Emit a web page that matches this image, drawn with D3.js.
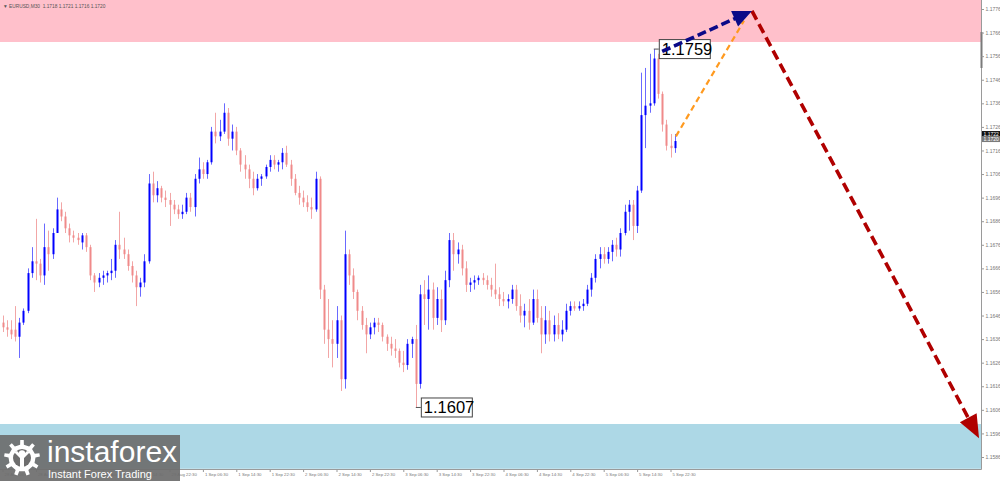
<!DOCTYPE html>
<html><head><meta charset="utf-8">
<script src="https://cdn.jsdelivr.net/npm/d3@7"></script>
<style>html,body{margin:0;padding:0;background:#fff;overflow:hidden}</style>
</head><body><svg id="c" width="1000" height="481"></svg>
<script>
// ---- DATA (EURUSD, hourly-merged candles) ----
const opens=[1.1643,1.1641,1.1640,1.1640,1.1637,1.1643,1.1648,1.1664,1.1669,1.1668,
1.1663,1.1675,1.1672,1.1681,1.1691,1.1688,1.1683,1.1680,1.1679,1.1677,
1.1680,1.1675,1.1663,1.1660,1.1662,1.1663,1.1664,1.1665,1.1676,1.1674,
1.1672,1.1667,1.1663,1.1658,1.1660,1.1669,1.1702,1.1697,1.1700,1.1696,
1.1695,1.1693,1.1691,1.1689,1.1690,1.1696,1.1692,1.1704,1.1708,1.1706,
1.1711,1.1724,1.1722,1.1724,1.1732,1.1721,1.1724,1.1716,1.1710,1.1708,
1.1704,1.1700,1.1704,1.1705,1.1709,1.1712,1.1710,1.1711,1.1715,1.1710,
1.1704,1.1698,1.1696,1.1694,1.1692,1.1691,1.1704,1.1657,1.1640,1.1636,
1.1634,1.1644,1.1619,1.1672,1.1663,1.1656,1.1648,1.1642,1.1638,1.1641,
1.1643,1.1642,1.1637,1.1634,1.1632,1.1631,1.1626,1.1625,1.1634,1.1636,
1.1617,1.1655,1.1653,1.1657,1.1645,1.1653,1.1644,1.1661,1.1678,1.1672,
1.1674,1.1666,1.1659,1.1660,1.1661,1.1662,1.1661,1.1659,1.1657,1.1655,
1.1653,1.1652,1.1653,1.1657,1.1650,1.1646,1.1648,1.1643,1.1653,1.1645,
1.1638,1.1644,1.1638,1.1642,1.1638,1.1640,1.1648,1.1650,1.1649,1.1650,
1.1651,1.1657,1.1662,1.1670,1.1672,1.1670,1.1673,1.1676,1.1674,1.1681,
1.1690,1.1693,1.1684,1.1699,1.1731,1.1735,1.1736,1.1755,1.1740,1.1727,
1.1718,1.1717];
const highs=[1.1646,1.1644,1.1644,1.1650,1.1645,1.1649,1.1666,1.1675,1.1687,1.1670,
1.1685,1.1682,1.1683,1.1696,1.1694,1.1690,1.1685,1.1682,1.1681,1.1681,
1.1681,1.1676,1.1664,1.1664,1.1665,1.1665,1.1670,1.1678,1.1690,1.1679,
1.1674,1.1669,1.1665,1.1662,1.1672,1.1706,1.1707,1.1703,1.1701,1.1699,
1.1698,1.1695,1.1693,1.1693,1.1698,1.1698,1.1706,1.1713,1.1711,1.1712,
1.1726,1.1732,1.1729,1.1736,1.1734,1.1727,1.1726,1.1717,1.1714,1.1710,
1.1707,1.1706,1.1706,1.1710,1.1714,1.1714,1.1712,1.1717,1.1718,1.1712,
1.1706,1.1701,1.1699,1.1697,1.1696,1.1707,1.1705,1.1659,1.1653,1.1644,
1.1650,1.1646,1.1682,1.1674,1.1666,1.1657,1.1650,1.1645,1.1643,1.1645,
1.1645,1.1643,1.1638,1.1637,1.1636,1.1632,1.1631,1.1636,1.1637,1.1642,
1.1659,1.1661,1.1663,1.1660,1.1658,1.1657,1.1665,1.1681,1.1681,1.1677,
1.1676,1.1669,1.1662,1.1663,1.1663,1.1664,1.1663,1.1662,1.1668,1.1658,
1.1656,1.1655,1.1659,1.1659,1.1655,1.1651,1.1653,1.1657,1.1657,1.1650,
1.1650,1.1648,1.1646,1.1647,1.1644,1.1651,1.1652,1.1652,1.1652,1.1653,
1.1659,1.1664,1.1672,1.1675,1.1675,1.1675,1.1678,1.1679,1.1683,1.1693,
1.1695,1.1695,1.1701,1.1749,1.1751,1.1757,1.1759,1.1757,1.1741,1.1729,
1.1723,1.1723];
const lows=[1.1639,1.1637,1.1636,1.1635,1.1628,1.1642,1.1647,1.1662,1.1661,1.1660,
1.1659,1.1665,1.1670,1.1681,1.1686,1.1681,1.1677,1.1677,1.1676,1.1674,
1.1673,1.1661,1.1656,1.1658,1.1659,1.1660,1.1661,1.1662,1.1670,1.1670,
1.1665,1.1660,1.1650,1.1654,1.1658,1.1668,1.1694,1.1694,1.1694,1.1692,
1.1684,1.1689,1.1687,1.1687,1.1689,1.1690,1.1688,1.1702,1.1704,1.1704,
1.1710,1.1719,1.1720,1.1723,1.1718,1.1716,1.1714,1.1707,1.1704,1.1700,
1.1697,1.1699,1.1701,1.1704,1.1707,1.1708,1.1707,1.1708,1.1709,1.1701,
1.1697,1.1693,1.1692,1.1690,1.1687,1.1690,1.1653,1.1634,1.1628,1.1624,
1.1628,1.1614,1.1615,1.1659,1.1653,1.1644,1.1640,1.1630,1.1636,1.1638,
1.1639,1.1635,1.1631,1.1629,1.1628,1.1624,1.1622,1.1623,1.1628,1.1607,
1.1615,1.1642,1.1640,1.1640,1.1642,1.1639,1.1642,1.1658,1.1665,1.1668,
1.1663,1.1656,1.1656,1.1657,1.1659,1.1659,1.1657,1.1654,1.1653,1.1650,
1.1650,1.1649,1.1651,1.1648,1.1643,1.1641,1.1640,1.1642,1.1643,1.1630,
1.1634,1.1635,1.1635,1.1636,1.1635,1.1639,1.1646,1.1648,1.1648,1.1648,
1.1650,1.1654,1.1660,1.1666,1.1668,1.1668,1.1669,1.1671,1.1671,1.1680,
1.1682,1.1678,1.1681,1.1698,1.1717,1.1732,1.1735,1.1738,1.1724,1.1716,
1.1713,1.1715];
const closes=[1.1641,1.1640,1.1638,1.1637,1.1643,1.1648,1.1664,1.1669,1.1668,1.1663,
1.1675,1.1672,1.1681,1.1691,1.1688,1.1683,1.1680,1.1679,1.1678,1.1680,
1.1675,1.1663,1.1660,1.1662,1.1663,1.1664,1.1665,1.1676,1.1674,1.1672,
1.1667,1.1663,1.1658,1.1660,1.1669,1.1702,1.1697,1.1700,1.1696,1.1695,
1.1693,1.1691,1.1689,1.1690,1.1696,1.1692,1.1704,1.1708,1.1706,1.1711,
1.1724,1.1722,1.1724,1.1732,1.1721,1.1724,1.1716,1.1710,1.1708,1.1704,
1.1700,1.1704,1.1705,1.1709,1.1712,1.1710,1.1711,1.1715,1.1710,1.1704,
1.1698,1.1696,1.1694,1.1692,1.1691,1.1704,1.1657,1.1640,1.1636,1.1634,
1.1644,1.1619,1.1672,1.1663,1.1656,1.1648,1.1642,1.1638,1.1641,1.1643,
1.1642,1.1637,1.1634,1.1632,1.1631,1.1626,1.1625,1.1634,1.1636,1.1617,
1.1655,1.1653,1.1657,1.1645,1.1653,1.1644,1.1661,1.1678,1.1672,1.1674,
1.1666,1.1659,1.1660,1.1661,1.1662,1.1661,1.1659,1.1657,1.1655,1.1653,
1.1652,1.1653,1.1657,1.1650,1.1646,1.1648,1.1643,1.1653,1.1645,1.1638,
1.1644,1.1638,1.1642,1.1638,1.1640,1.1648,1.1650,1.1649,1.1650,1.1651,
1.1657,1.1662,1.1670,1.1672,1.1670,1.1673,1.1676,1.1674,1.1681,1.1690,
1.1693,1.1684,1.1699,1.1731,1.1735,1.1736,1.1755,1.1740,1.1727,1.1718,
1.1717,1.1720];

const tickLabels=["28 Aug 06:30","28 Aug 14:30","28 Aug 22:30","29 Aug 06:30","29 Aug 14:30","29 Aug 22:30",
"1 Sep 06:30","1 Sep 14:30","1 Sep 22:30","2 Sep 06:30","2 Sep 14:30","2 Sep 22:30",
"3 Sep 06:30","3 Sep 14:30","3 Sep 22:30","4 Sep 06:30","4 Sep 14:30","4 Sep 22:30",
"5 Sep 06:30","5 Sep 14:30","5 Sep 22:30"];
const tickIndex=[0,8,16,24,32,40,48,56,64,72,80,88,96,104,112,120,128,136,144,152,160];
const priceTicks=[1.1776,1.1766,1.1756,1.1746,1.1736,1.1726,1.1716,1.1706,1.1696,1.1686,
1.1676,1.1666,1.1656,1.1646,1.1636,1.1626,1.1616,1.1606,1.1596,1.1586];

const sellZone=[1.1762,1.1790];
const buyZone=[1.1581,1.1600];
// forecast path: [candle index, price]
const bluePath=[[158.0,1.1758],[179.5,1.17752]];
const orangePath=[[161.3,1.1722],[177.6,1.1771]];
const redPath=[[179.5,1.17752],[233.9,1.1594]];
const extremes=[{i:156,p:1.1759,label:"1.1759"},{i:99,p:1.1607,label:"1.1607"}];
const header="\u25BC EURUSD,M30  1.1718 1.1721 1.1716 1.1720";
const priceBoxes=[{label:"1.1722",fill:"#111"},{label:"1.1720",fill:"#7a7a7a"}];

// ---- CHART ----
const svg=d3.select("#c");
const W=1000,H=481,plotR=981,plotB=469.5;
const x=d3.scaleLinear().domain([0,161]).range([2.5,2.5+4.175*161]);
const y=d3.scaleLinear().domain([1.1586,1.1776]).range([457,9]);
const font="'Liberation Sans', Arial, sans-serif";

const plot=svg.append("g");
const clip=svg.append("clipPath").attr("id","pc").append("rect").attr("x",0).attr("y",0).attr("width",plotR).attr("height",plotB);
plot.attr("clip-path","url(#pc)");

plot.append("rect").attr("x",0).attr("width",plotR)
  .attr("y",Math.max(0,y(sellZone[1]))).attr("height",y(sellZone[0])-Math.max(0,y(sellZone[1])))
  .attr("fill","#ffc0cb");
plot.append("rect").attr("x",0).attr("width",plotR)
  .attr("y",y(buyZone[1])).attr("height",y(buyZone[0])-y(buyZone[1]))
  .attr("fill","#add8e6");

// candles
const idx=d3.range(closes.length);
const up="#0000ff", dn="#f08a8a";
const cg=plot.append("g");
cg.selectAll("line.w").data(idx).join("line")
  .attr("x1",i=>Math.round(x(i))+0.5).attr("x2",i=>Math.round(x(i))+0.5)
  .attr("y1",i=>y(highs[i])).attr("y2",i=>y(lows[i]))
  .attr("stroke",i=>closes[i]>=opens[i]?"#6a6aff":"#f2a6a6").attr("stroke-width",1);
cg.selectAll("rect.b").data(idx).join("rect")
  .attr("x",i=>Math.round(x(i))-0.5).attr("width",2)
  .attr("y",i=>y(Math.max(opens[i],closes[i])))
  .attr("height",i=>Math.max(1,Math.abs(y(opens[i])-y(closes[i]))))
  .attr("fill",i=>closes[i]>=opens[i]?up:dn);

// extreme labels
extremes.forEach(e=>{
  const ex=x(e.i), ey=y(e.p);
  const g=plot.append("g");
  g.append("line").attr("x1",ex).attr("x2",ex+5).attr("y1",ey).attr("y2",ey).attr("stroke","#555");
  g.append("rect").attr("x",ex+5.5).attr("y",ey-9.5).attr("width",51).attr("height",19)
    .attr("fill","#fff").attr("stroke","#444").attr("stroke-width",1);
  g.append("text").attr("x",ex+8).attr("y",ey+6).text(e.label)
    .attr("font-family",font).attr("font-size",16.5).attr("fill","#000");
});

function arrow(pts,color,w,dash,headLen,headHalf){
  const x1=x(pts[0][0]),y1=y(pts[0][1]),x2=x(pts[1][0]),y2=y(pts[1][1]);
  const dx=x2-x1,dy=y2-y1,L=Math.hypot(dx,dy),ux=dx/L,uy=dy/L;
  const bx=x2-ux*(headLen||0),by=y2-uy*(headLen||0);
  plot.append("line").attr("x1",x1).attr("y1",y1).attr("x2",headLen?bx+ux*2:x2).attr("y2",headLen?by+uy*2:y2)
    .attr("stroke",color).attr("stroke-width",w).attr("stroke-dasharray",dash);
  if(headLen){
    const nx=-uy,ny=ux;
    plot.append("polygon").attr("points",[[x2,y2],[bx+nx*headHalf,by+ny*headHalf],[bx-nx*headHalf,by-ny*headHalf]].map(p=>p.join(",")).join(" "))
      .attr("fill",color);
  }
}
arrow(orangePath,"#ff9a1f",2.2,"6,4",0,0);
arrow(redPath,"#b00000",3.6,"10,5",23,9.5);
arrow(bluePath,"#0a0a88",3.6,"9,4",19,8.5);

// axes
svg.append("line").attr("x1",plotR+0.5).attr("x2",plotR+0.5).attr("y1",0).attr("y2",plotB).attr("stroke","#9a9a9a");
svg.append("line").attr("x1",0).attr("x2",plotR+0.5).attr("y1",plotB).attr("y2",plotB).attr("stroke","#9a9a9a");
svg.append("rect").attr("x",plotR-0.5).attr("y",32).attr("width",2).attr("height",36).attr("fill","#7a7a7a");

const ya=svg.append("g").attr("transform",`translate(${plotR+0.5},0)`)
  .call(d3.axisRight(y).tickValues(priceTicks).tickSize(2.5).tickPadding(1.5).tickFormat(d3.format(".4f")));
ya.select(".domain").remove();
ya.selectAll("line").attr("stroke","#999");
ya.selectAll("text").attr("font-family",font).attr("font-size",5).attr("fill","#777");

const xa=svg.append("g").attr("transform",`translate(0,${plotB})`)
  .call(d3.axisBottom(x).tickValues(tickIndex).tickSize(2.5).tickFormat((d,i)=>tickLabels[i]));
xa.select(".domain").remove();
xa.selectAll("line").attr("stroke","#999");
xa.selectAll("text").attr("text-anchor","start").attr("x",1.5).attr("y",3.5)
  .attr("font-family",font).attr("font-size",4.3).attr("fill","#777");

// current price boxes
const cur=closes[closes.length-1];
priceBoxes.forEach((b,k)=>{
  const cy=y(cur)-7+k*5;
  svg.append("rect").attr("x",plotR+1).attr("y",cy-3).attr("width",18).attr("height",6).attr("fill",b.fill);
  svg.append("text").attr("x",plotR+2.5).attr("y",cy+1.8).text(b.label)
    .attr("font-family",font).attr("font-size",5).attr("fill","#fff");
});

// header
svg.append("text").attr("x",3).attr("y",7.5).text(header)
  .attr("font-family",font).attr("font-size",4.8).attr("fill","#555").attr("xml:space","preserve");

// logo
const logo=svg.append("g");
logo.append("rect").attr("x",0).attr("y",435).attr("width",180).attr("height",46).attr("fill","#6e6e6e").attr("opacity",0.93);
(function(){
  const cx=22,cy=458,ro=18,ri=13.5,n=9,pts=[];
  for(let k=0;k<n;k++){
    const a0=k/n*2*Math.PI, s=2*Math.PI/n;
    pts.push([a0-s*0.2,ri],[a0-s*0.14,ro],[a0+s*0.14,ro],[a0+s*0.2,ri]);
  }
  const line=d3.lineRadial().angle(d=>d[0]).radius(d=>d[1]).curve(d3.curveLinearClosed);
  logo.append("path").attr("transform",`translate(${cx},${cy})`).attr("d",line(pts)).attr("fill","#fff");
  logo.append("circle").attr("cx",cx).attr("cy",cy).attr("r",9).attr("fill","#6e6e6e");
  logo.append("circle").attr("cx",cx).attr("cy",cy-4.5).attr("r",3.2).attr("fill","#fff");
  logo.append("path").attr("d",`M${cx-8},${cy-6} L${cx-2},${cy} L${cx-2},${cy+12} L${cx+2},${cy+12} L${cx+2},${cy} L${cx+8},${cy-6} L${cx+5},${cy-7} L${cx},${cy-2} L${cx-5},${cy-7}Z`).attr("fill","#fff");
})();
logo.append("text").attr("x",47).attr("y",462).text("instaforex")
  .attr("font-family",font).attr("font-size",30).attr("fill","#fff");
logo.append("text").attr("x",48).attr("y",478).text("Instant Forex Trading")
  .attr("font-family",font).attr("font-size",11).attr("fill","#fff");
</script></body></html>
